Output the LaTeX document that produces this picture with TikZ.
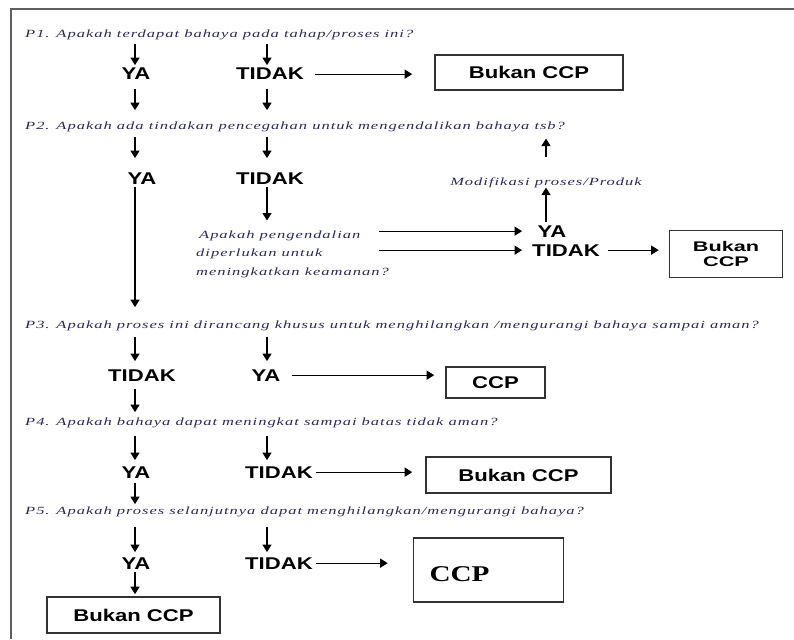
\documentclass[tikz,border=0pt]{standalone}
\usepackage{fontspec}
\setmainfont{Liberation Serif}
\newfontfamily\ansfont[FakeStretch=1.3]{Liberation Sans}
\newfontfamily\narrowansfont[FakeStretch=1.55]{Liberation Sans}
\newfontfamily\qfont[FakeStretch=1.5,LetterSpace=9]{Liberation Serif}
\newfontfamily\ccpfont[FakeStretch=1.3]{Liberation Serif}
\usetikzlibrary{arrows.meta}
\usetikzlibrary{calc}
\usetikzlibrary{positioning}
\definecolor{qcol}{RGB}{44,40,90}
\definecolor{boxcol}{RGB}{50,50,50}
\definecolor{framecol}{RGB}{95,95,95}

\tikzset{
  ans/.style={font=\ansfont\bfseries\fontsize{17}{19}\selectfont, inner sep=3pt, anchor=base},
  quest/.style={font=\qfont\itshape\fontsize{11}{18.5}\selectfont, text=qcol, inner sep=0pt},
  ccpbox/.style={draw=boxcol, line width=1.6pt, inner sep=0pt, font=\ansfont\bfseries\fontsize{17}{19}\selectfont},
  flow/.style={-{Triangle[length=7.5pt,width=9pt]}, line width=1.2pt},
}

\begin{document}
\begin{tikzpicture}[x=1pt,y=-1pt]
        \useasboundingbox (0,0) rectangle (794,639);
        \draw[framecol, line width=1.6pt] (794,9) -- (11,9) -- (11,639);

        \coordinate (ca) at (135,0);
        \coordinate (cb) at (267,0);

        % P1
        \node[quest, anchor=base west] (q1) at (25,37.5) {P1. Apakah terdapat bahaya pada tahap/proses ini?};
        \node[ans] (ya1) at (136,80) {YA};
        \node[ans] (tidak1) at (270,80) {TIDAK};
        \node[ccpbox, minimum width=188, minimum height=35] (bukan1) at (529,72.5) {Bukan CCP};
        \draw[flow, shorten <=4pt] (ca |- q1.south) -- (ca |- ya1.north);
        \draw[flow, shorten <=4pt] (cb |- q1.south) -- (cb |- tidak1.north);
        \draw[flow, shorten <=8pt, shorten >=22pt] (tidak1) -- (tidak1 -| bukan1.west);

        % P2
        \node[quest, anchor=base west] (q2) at (25,130) {P2. Apakah ada tindakan pencegahan untuk mengendalikan bahaya tsb?};
        \draw[flow, shorten <=6pt, shorten >=12pt] (ca |- ya1.south) -- (ca |- q2.north);
        \draw[flow, shorten <=6pt, shorten >=12pt] (cb |- tidak1.south) -- (cb |- q2.north);
        \node[ans] (ya2) at (142,184) {YA};
        \node[ans] (tidak2) at (270,184) {TIDAK};
        \draw[flow, shorten <=4pt, shorten >=11pt] (ca |- q2.south) -- (ca |- ya2.north);
        \draw[flow, shorten <=4pt, shorten >=11pt] (cb |- q2.south) -- (cb |- tidak2.north);

        \node[quest, anchor=north west, align=left] (pengq) at (196,230.5) {\hspace{3pt}Apakah pengendalian\\diperlukan untuk\\meningkatkan keamanan?};
        \draw[flow, shorten >=10pt] (cb |- tidak2.south) -- (cb |- pengq.north);

        \node[ans] (yaB) at (552,237) {YA};
        \node[ans] (tidakB) at (566,256) {TIDAK};
        \node[quest, anchor=base] (modif) at (546,185) {Modifikasi proses/Produk};
        \node[ccpbox, font=\narrowansfont\bfseries\fontsize{14}{15}\selectfont, align=center, minimum width=113, minimum height=47] (bukan2) at (726,254) {Bukan\\CCP};
        \draw[flow, shorten >=7pt] ($(pengq.east |- yaB)+(-10,0)$) -- (yaB -| tidakB.west);
        \draw[flow, shorten >=7pt] ($(pengq.east |- tidakB)+(-10,0)$) -- (tidakB.west);
        \draw[flow, shorten <=5pt, shorten >=10pt] (tidakB) -- (tidakB -| bukan2.west);
        \draw[flow] (modif.south |- yaB.north) -- (modif.south);
        \draw[flow, shorten <=20pt, shorten >=6pt] (modif.north) -- (modif.north |- q2.south);

        % P3
        \node[quest, anchor=base west] (q3) at (25,328) {P3. Apakah proses ini dirancang khusus untuk menghilangkan /mengurangi bahaya sampai aman?};
        \draw[flow, shorten >=13pt] (ca |- ya2.south) -- (ca |- q3.north);
        \node[ans] (tidak3) at (142,381) {TIDAK};
        \node[ans] (ya3) at (266,381) {YA};
        \node[ccpbox, minimum width=99, minimum height=31] (ccp3) at (495.5,382.5) {CCP};
        \draw[flow, shorten <=6pt, shorten >=5pt] (ca |- q3.south) -- (ca |- tidak3.north);
        \draw[flow, shorten <=6pt, shorten >=5pt] (cb |- q3.south) -- (cb |- ya3.north);
        \draw[flow, shorten <=8pt, shorten >=11pt] (ya3) -- (ya3 -| ccp3.west);

        % P4
        \node[quest, anchor=base west] (q4) at (25,425) {P4. Apakah bahaya dapat meningkat sampai batas tidak aman?};
        \draw[flow, shorten <=5pt, shorten >=5pt] (ca |- tidak3.south) -- (ca |- q4.north);
        \node[ans] (ya4) at (136,478) {YA};
        \node[ans] (tidak4) at (279,478) {TIDAK};
        \node[ccpbox, minimum width=185, minimum height=36] (bukan4) at (518.5,475) {Bukan CCP};
        \draw[flow, shorten <=8pt, shorten >=3pt] (ca |- q4.south) -- (ca |- ya4.north);
        \draw[flow, shorten <=8pt, shorten >=3pt] (cb |- q4.south) -- (cb |- tidak4.north);
        \draw[flow, shorten >=13pt] (tidak4) -- (tidak4 -| bukan4.west);

        % P5
        \node[quest, anchor=base west] (q5) at (25,514) {P5. Apakah proses selanjutnya dapat menghilangkan/mengurangi bahaya?};
        \draw[flow, shorten <=2pt, shorten >=2pt] (ca |- ya4.south) -- (ca |- q5.north);
        \node[ans] (ya5) at (136,569) {YA};
        \node[ans] (tidak5) at (279,569) {TIDAK};
        \node[ccpbox, font=\ccpfont\bfseries\fontsize{22.5}{24}\selectfont, text width=118, inner xsep=16, minimum height=64, text height=22, text depth=0, align=left] (ccp5) at (488.5,570) {CCP};
        \node[ccpbox, minimum width=173, minimum height=36] (bukan6) at (133.5,615) {Bukan CCP};
        \draw[flow, shorten <=10pt, shorten >=2pt] (ca |- q5.south) -- (ca |- ya5.north);
        \draw[flow, shorten <=10pt, shorten >=2pt] (cb |- q5.south) -- (cb |- tidak5.north);
        \draw[flow, shorten >=25pt] (tidak5) -- (tidak5 -| ccp5.west);
        \draw[flow, shorten >=2pt] (ca |- ya5.south) -- (ca |- bukan6.north);

\end{tikzpicture}
\end{document}
